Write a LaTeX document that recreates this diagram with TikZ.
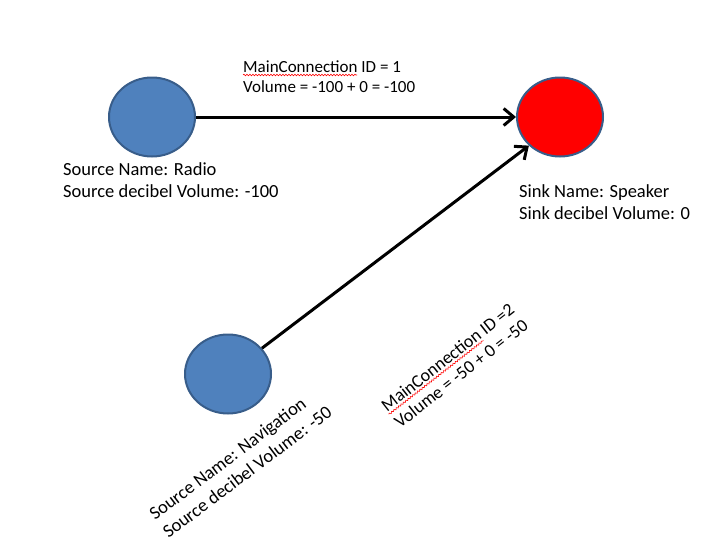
\documentclass[tikz,border=0pt]{standalone}
\usepackage{fontspec}
\setmainfont{Carlito}
\usetikzlibrary{shapes.geometric,arrows.meta,decorations.pathmorphing}
\definecolor{srcblue}{HTML}{4F81BD}
\definecolor{edgeblue}{HTML}{385D8A}
\definecolor{sinkred}{HTML}{FF0000}
\begin{document}
\begin{tikzpicture}[x=1pt,y=-1pt,
  blob/.style={ellipse,draw=edgeblue,line width=2pt,inner sep=0pt,minimum width=86pt,minimum height=79pt},
  src/.style={blob,fill=srcblue},
  sink/.style={blob,fill=sinkred},
  conn/.style={line width=3pt,-{Straight Barb[length=10pt,width=17pt,line width=3pt]}},
  lbl/.style={inner sep=0pt,anchor=base west,align=left,font=\fontsize{18.5}{22}\selectfont},
  clbl/.style={inner sep=0pt,anchor=base west,align=left,font=\fontsize{17}{20}\selectfont},
  squig/.style={draw=red,line width=0.6pt,decorate,decoration={snake,amplitude=0.8pt,segment length=3pt}}
]
\useasboundingbox (0,0) rectangle (714,554);
\node[src] (radio) at (152,117) {};
\node[sink] (spk) at (560,117) {};
\node[src] (nav) at (228,374) {};

\draw[conn] (radio) -- (spk);
\draw[conn] (nav) -- (spk.south west);

% base west = baseline of the last line
\node[lbl] (radiolbl) at (63,197) {Source Name: Radio\\Source decibel Volume: -100};
\node[lbl] (spklbl) at (519,219) {Sink Name: Speaker\\Sink decibel Volume: 0};
\node[clbl] (c1lbl) at (243,92) {MainConnection ID = 1\\Volume = -100 + 0 = -100};
\draw[squig] (243,75) -- (357,75);

\node[lbl,rotate=37,font=\fontsize{18.5}{22.5}\selectfont] (navlbl) at (168.5,539) {Source Name: Navigation\\Source decibel Volume: -50};
\node[clbl,rotate=38,font=\fontsize{18}{21}\selectfont] (c2lbl) at (400,429) {MainConnection ID =2\\Volume = -50 + 0 = -50};
\begin{scope}[shift={(387,412)},rotate=38]
\draw[squig] (0,3) -- (120,3);
\end{scope}
\end{tikzpicture}
\end{document}
